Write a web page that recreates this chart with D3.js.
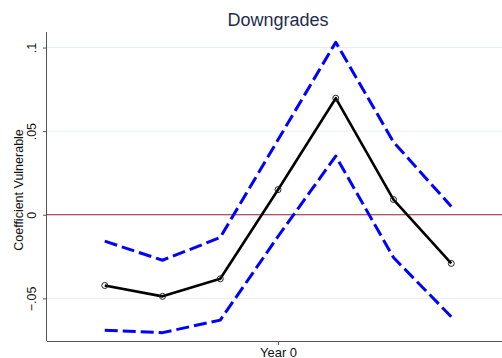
<!DOCTYPE html>
<html>
<head>
<meta charset="utf-8">
<script src="https://cdn.jsdelivr.net/npm/d3@7"></script>
<style>
  html, body { margin: 0; padding: 0; background: #fff; }
  svg { display: block; font-family: "Liberation Sans", Arial, sans-serif; }
</style>
</head>
<body>
<svg id="chart" width="502" height="358"></svg>
<script>
// Event-time periods relative to the downgrade year
const periods = [-3, -2, -1, 0, 1, 2, 3];
// Point estimates and 95% confidence bounds
const coef  = [-0.0423, -0.0488, -0.0383, 0.0150, 0.0697, 0.0091, -0.0291];
const upper = [-0.0158, -0.0272, -0.0136, 0.0448, 0.1032, 0.0435, 0.0050];
const lower = [-0.0690, -0.0705, -0.0630, -0.0130, 0.0351, -0.0256, -0.0610];
// Axis ticks
const yTicks = [-0.05, 0, 0.05, 0.1];
const yTickLabels = ["\u2212.05", "0", ".05", ".1"];
const xTicks = [0];
const xTickLabels = ["Year 0"];

const svg = d3.select("#chart");
const plotLeft = 47, plotRight = 509, plotTop = 32, plotBottom = 341;

const x = d3.scaleLinear().domain([-4, 4]).range([plotLeft, plotRight]);
const y = d3.scaleLinear().domain([-0.0755, 0.1093]).range([plotBottom, plotTop]);

// Horizontal gridlines
svg.append("g").selectAll("line").data(yTicks.filter(d => d !== 0)).join("line")
  .attr("x1", plotLeft).attr("x2", 502)
  .attr("y1", d => y(d)).attr("y2", d => y(d))
  .attr("stroke", "#e8eff0").attr("stroke-width", 1);

// Reference line at zero
svg.append("line")
  .attr("x1", plotLeft).attr("x2", 502)
  .attr("y1", y(0)).attr("y2", y(0))
  .attr("stroke", "#951a35").attr("stroke-width", 1.1);

// Y axis
const yAxis = d3.axisLeft(y).tickValues(yTicks)
  .tickFormat((d, i) => yTickLabels[i]).tickSize(4).tickPadding(4);
const gy = svg.append("g").attr("transform", `translate(${plotLeft},0)`).call(yAxis);
gy.select(".domain").attr("stroke", "#555").attr("d", `M-0.5,${plotTop}V${plotBottom}`);
gy.selectAll(".tick line").attr("stroke", "#555");
gy.selectAll(".tick text")
  .attr("font-size", 12.5).attr("fill", "#111")
  .attr("text-anchor", "middle")
  .attr("x", null).attr("dy", null)
  .attr("transform", "translate(-11,0) rotate(-90)");

// X axis
const xAxis = d3.axisBottom(x).tickValues(xTicks)
  .tickFormat((d, i) => xTickLabels[i]).tickSize(4).tickPadding(3);
const gx = svg.append("g").attr("transform", `translate(0,${plotBottom})`).call(xAxis);
gx.select(".domain").attr("stroke", "#555").attr("d", `M${plotLeft},0.5H502`);
gx.selectAll(".tick line").attr("stroke", "#555");
gx.selectAll(".tick text").attr("font-size", 13).attr("fill", "#111");

// Lines
const line = vals => d3.line()
  .x((d, i) => x(periods[i]))
  .y(d => y(d))(vals);

svg.append("path").attr("d", line(upper))
  .attr("fill", "none").attr("stroke", "#0000ff").attr("stroke-width", 3)
  .attr("stroke-dasharray", "13,5").attr("stroke-linejoin", "round");
svg.append("path").attr("d", line(lower))
  .attr("fill", "none").attr("stroke", "#0000ff").attr("stroke-width", 3)
  .attr("stroke-dasharray", "13,5").attr("stroke-linejoin", "round");
svg.append("path").attr("d", line(coef))
  .attr("fill", "none").attr("stroke", "#000").attr("stroke-width", 2.6)
  .attr("stroke-linejoin", "round");

// Markers on the point estimates
svg.append("g").selectAll("circle").data(coef).join("circle")
  .attr("cx", (d, i) => x(periods[i])).attr("cy", d => y(d))
  .attr("r", 3).attr("fill", "none")
  .attr("stroke", "#222").attr("stroke-width", 1);

// Title
svg.append("text").attr("x", 278).attr("y", 26)
  .attr("text-anchor", "middle").attr("font-size", 18)
  .attr("fill", "#1e2d4f").text("Downgrades");

// Y axis title
svg.append("text")
  .attr("transform", `translate(23,190) rotate(-90)`)
  .attr("text-anchor", "middle").attr("font-size", 12.5)
  .attr("fill", "#111").text("Coefficient Vulnerable");
</script>
</body>
</html>
